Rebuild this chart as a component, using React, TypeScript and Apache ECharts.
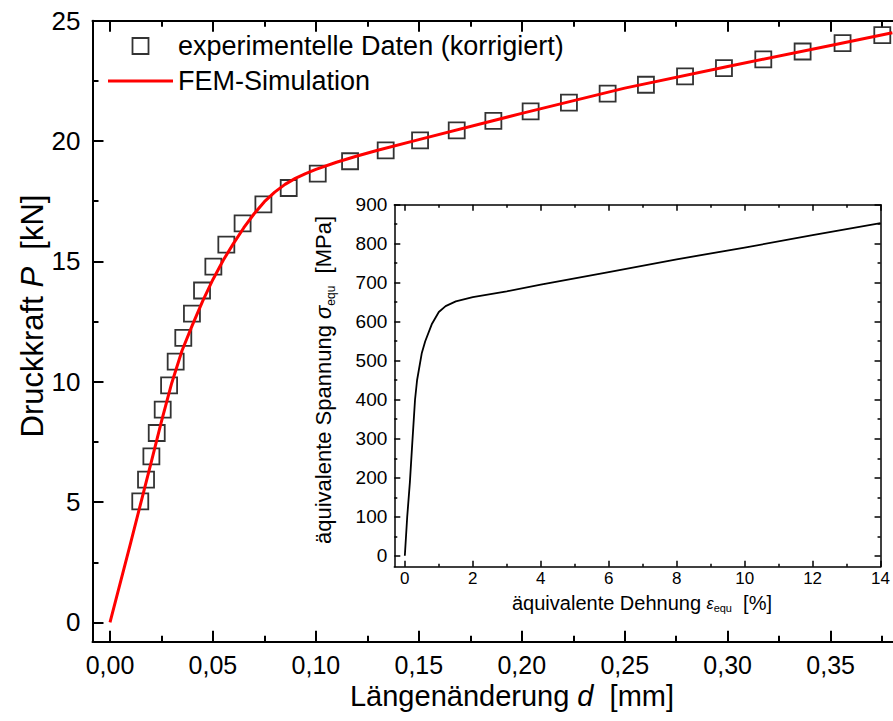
import React, { useEffect, useRef } from "react";
import * as echarts from "echarts";

// Experimental load–displacement points (corrected)
const D_EXP = [
  0.0147, 0.0175, 0.0201, 0.0227, 0.0256, 0.0287, 0.0319, 0.0356, 0.0398, 0.0447,
  0.0502, 0.0565, 0.0644, 0.0745, 0.0868, 0.1009, 0.1166, 0.1339, 0.1506, 0.1684,
  0.1862, 0.2043, 0.2229, 0.2417, 0.2603, 0.2793, 0.2982, 0.3173, 0.3364, 0.3558,
  0.3751,
];
const P_EXP = [
  5.03, 5.93, 6.9, 7.87, 8.84, 9.85, 10.84, 11.82, 12.83, 13.79,
  14.78, 15.7, 16.58, 17.37, 18.05, 18.65, 19.16, 19.61, 20.03, 20.44,
  20.84, 21.23, 21.6, 21.97, 22.34, 22.69, 23.03, 23.39, 23.72, 24.07,
  24.4,
];

// FEM simulation curve
const D_FEM = [
  0, 0.01, 0.02, 0.025, 0.03, 0.035, 0.04, 0.045, 0.05, 0.055, 0.06, 0.065, 0.07,
  0.075, 0.08, 0.085, 0.09, 0.095, 0.1, 0.11, 0.12, 0.13, 0.15, 0.2, 0.25, 0.3,
  0.35, 0.38,
];
const P_FEM = [
  0, 3.3, 6.65, 8.35, 9.95, 11.3, 12.35, 13.35, 14.25, 15.05, 15.75, 16.4, 16.98,
  17.48, 17.88, 18.2, 18.45, 18.65, 18.82, 19.12, 19.38, 19.62, 20.06, 21.15, 22.2,
  23.1, 23.97, 24.5,
];

// Equivalent stress–strain curve (inset)
const STRAIN = [0, 0.07, 0.15, 0.22, 0.3, 0.36, 0.5, 0.6, 0.8, 1.0, 1.2, 1.5, 2.0, 3, 4, 6, 8, 10, 12, 14];
const STRESS = [0, 100, 190, 290, 400, 450, 520, 550, 595, 625, 640, 652, 663, 678, 695, 727, 760, 790, 822, 853];

// Tick positions
const X_MAJOR = [0, 0.05, 0.1, 0.15, 0.2, 0.25, 0.3, 0.35];
const X_MINOR = [0.025, 0.075, 0.125, 0.175, 0.225, 0.275, 0.325, 0.375];
const Y_MAJOR = [0, 5, 10, 15, 20, 25];
const Y_MINOR = [2.5, 7.5, 12.5, 17.5, 22.5];
const IX_MAJOR = [0, 2, 4, 6, 8, 10, 12, 14];
const IX_MINOR = [1, 3, 5, 7, 9, 11, 13];
const IY_MAJOR = [0, 100, 200, 300, 400, 500, 600, 700, 800, 900];
const IY_MINOR = [50, 150, 250, 350, 450, 550, 650, 750, 850];

const FONT = "Liberation Sans, Arial, sans-serif";

function tickAxis(opts: {
  grid: number;
  position: string;
  min: number;
  max: number;
  ticks: number[];
  len: number;
  lineWidth: number;
  showLine: boolean;
  labels?: { values: number[]; fontSize: number; margin: number; formatter: (v: number) => string };
}) {
  return {
    type: "value",
    gridIndex: opts.grid,
    position: opts.position,
    min: opts.min,
    max: opts.max,
    splitLine: { show: false },
    axisLine: { show: opts.showLine, onZero: false, lineStyle: { color: "#000", width: opts.lineWidth } },
    axisTick: {
      show: true,
      inside: true,
      length: opts.len,
      customValues: opts.ticks,
      lineStyle: { color: "#000", width: opts.lineWidth },
    },
    axisLabel: opts.labels
      ? {
          show: true,
          customValues: opts.labels.values,
          fontSize: opts.labels.fontSize,
          fontFamily: FONT,
          color: "#000",
          margin: opts.labels.margin,
          formatter: opts.labels.formatter,
        }
      : { show: false },
  };
}

export default function App() {
  const ref = useRef<HTMLDivElement>(null);

  useEffect(() => {
    if (!ref.current) return;
    const chart = echarts.init(ref.current, null, { renderer: "svg" });

    const XMIN = -0.0085;
    const XMAX = 0.3803;
    const YMIN = -0.8;
    const YMAX = 25;
    const IXMIN = -0.31;
    const IXMAX = 14;
    const IYMIN = -28;
    const IYMAX = 900;

    const comma = (v: number) => v.toFixed(2).replace(".", ",");
    const plain = (v: number) => String(v);

    const option: any = {
      animation: false,
      backgroundColor: "#fff",
      grid: [
        { left: 92.5, top: 20.7, right: 0, bottom: 79.3, show: false },
        {
          left: 394.3,
          top: 204.7,
          width: 488.7,
          height: 362,
          show: true,
          backgroundColor: "#fff",
          borderWidth: 0,
        },
      ],
      xAxis: [
        tickAxis({ grid: 0, position: "bottom", min: XMIN, max: XMAX, ticks: X_MAJOR, len: 11, lineWidth: 2, showLine: true,
          labels: { values: X_MAJOR, fontSize: 25, margin: 11, formatter: comma } }),
        tickAxis({ grid: 0, position: "bottom", min: XMIN, max: XMAX, ticks: X_MINOR, len: 6, lineWidth: 2, showLine: false }),
        tickAxis({ grid: 0, position: "top", min: XMIN, max: XMAX, ticks: X_MAJOR, len: 11, lineWidth: 2, showLine: true }),
        tickAxis({ grid: 0, position: "top", min: XMIN, max: XMAX, ticks: X_MINOR, len: 6, lineWidth: 2, showLine: false }),
        tickAxis({ grid: 1, position: "bottom", min: IXMIN, max: IXMAX, ticks: IX_MAJOR, len: 6, lineWidth: 1.5, showLine: true,
          labels: { values: IX_MAJOR, fontSize: 17, margin: 3, formatter: plain } }),
        tickAxis({ grid: 1, position: "bottom", min: IXMIN, max: IXMAX, ticks: IX_MINOR, len: 3, lineWidth: 1.5, showLine: false }),
        tickAxis({ grid: 1, position: "top", min: IXMIN, max: IXMAX, ticks: IX_MAJOR, len: 6, lineWidth: 1.5, showLine: true }),
        tickAxis({ grid: 1, position: "top", min: IXMIN, max: IXMAX, ticks: IX_MINOR, len: 3, lineWidth: 1.5, showLine: false }),
      ],
      yAxis: [
        tickAxis({ grid: 0, position: "left", min: YMIN, max: YMAX, ticks: Y_MAJOR, len: 11, lineWidth: 2, showLine: true,
          labels: { values: Y_MAJOR, fontSize: 26, margin: 12, formatter: plain } }),
        tickAxis({ grid: 0, position: "left", min: YMIN, max: YMAX, ticks: Y_MINOR, len: 6, lineWidth: 2, showLine: false }),
        tickAxis({ grid: 1, position: "left", min: IYMIN, max: IYMAX, ticks: IY_MAJOR, len: 6, lineWidth: 1.5, showLine: true,
          labels: { values: IY_MAJOR, fontSize: 19, margin: 7, formatter: plain } }),
        tickAxis({ grid: 1, position: "left", min: IYMIN, max: IYMAX, ticks: IY_MINOR, len: 3, lineWidth: 1.5, showLine: false }),
        tickAxis({ grid: 1, position: "right", min: IYMIN, max: IYMAX, ticks: IY_MAJOR, len: 6, lineWidth: 1.5, showLine: true }),
        tickAxis({ grid: 1, position: "right", min: IYMIN, max: IYMAX, ticks: IY_MINOR, len: 3, lineWidth: 1.5, showLine: false }),
      ],
      legend: {
        orient: "vertical",
        left: 103,
        top: 26,
        itemWidth: 65,
        itemHeight: 16,
        itemGap: 5,
        textStyle: { fontSize: 27, fontFamily: FONT, color: "#000", lineHeight: 30 },
        data: [
          {
            name: "experimentelle Daten (korrigiert)",
            icon: "path://M0,0H10V10H0Z",
            itemStyle: { color: "rgba(0,0,0,0)", borderColor: "#000", borderWidth: 1.8 },
          },
          {
            name: "FEM-Simulation",
            icon: "path://M0,0H65V3H0Z",
            itemStyle: { color: "#ff0000", borderWidth: 0 },
          },
        ],
      },
      series: [
        {
          name: "experimentelle Daten (korrigiert)",
          type: "scatter",
          xAxisIndex: 0,
          yAxisIndex: 0,
          symbol: "rect",
          symbolSize: 16,
          itemStyle: { color: "rgba(0,0,0,0)", borderColor: "#000", borderWidth: 1.8 },
          data: D_EXP.map((d, i) => [d, P_EXP[i]]),
          z: 2,
        },
        {
          name: "FEM-Simulation",
          type: "line",
          xAxisIndex: 0,
          yAxisIndex: 0,
          symbol: "none",
          showSymbol: false,
          lineStyle: { color: "#ff0000", width: 3, join: "round" },
          itemStyle: { color: "#ff0000" },
          data: D_FEM.map((d, i) => [d, P_FEM[i]]),
          z: 3,
        },
        {
          name: "Fließkurve",
          type: "line",
          xAxisIndex: 4,
          yAxisIndex: 2,
          symbol: "none",
          showSymbol: false,
          lineStyle: { color: "#000", width: 1.8, join: "round" },
          data: STRAIN.map((e, i) => [e, STRESS[i]]),
          z: 3,
        },
      ],
      graphic: [
        {
          type: "text",
          x: 512,
          y: 696,
          style: {
            text: "{n|Längenänderung }{i|d}{n|  [mm]}",
            align: "center",
            verticalAlign: "middle",
            fill: "#000",
            rich: {
              n: { fontSize: 29, fontFamily: FONT, fill: "#000" },
              i: { fontSize: 29, fontFamily: FONT, fontStyle: "italic", fill: "#000" },
            },
          },
        },
        {
          type: "text",
          x: 32,
          y: 316,
          rotation: Math.PI / 2,
          style: {
            text: "{n|Druckkraft }{i|P}{n|  [kN]}",
            align: "center",
            verticalAlign: "middle",
            fill: "#000",
            rich: {
              n: { fontSize: 31, fontFamily: FONT, fill: "#000" },
              i: { fontSize: 31, fontFamily: FONT, fontStyle: "italic", fill: "#000" },
            },
          },
        },
        {
          type: "text",
          x: 642,
          y: 603,
          z: 10,
          style: {
            text: "{n|äquivalente Dehnung }{g|ε}{s|equ}{n|  [%]}",
            align: "center",
            verticalAlign: "middle",
            fill: "#000",
            rich: {
              n: { fontSize: 20, fontFamily: FONT, fill: "#000", lineHeight: 20, verticalAlign: "middle" },
              g: { fontSize: 16, fontFamily: FONT, fontStyle: "italic", fill: "#000", lineHeight: 20, verticalAlign: "middle" },
              s: { fontSize: 11, fontFamily: FONT, fill: "#000", lineHeight: 10, verticalAlign: "bottom" },
            },
          },
        },
        {
          type: "text",
          x: 323,
          y: 380,
          z: 10,
          rotation: Math.PI / 2,
          style: {
            text: "{n|äquivalente Spannung }{g|σ}{s|equ}{n|  [MPa]}",
            align: "center",
            verticalAlign: "middle",
            fill: "#000",
            rich: {
              n: { fontSize: 22, fontFamily: FONT, fill: "#000", lineHeight: 28, verticalAlign: "middle" },
              g: { fontSize: 22, fontFamily: FONT, fontStyle: "italic", fill: "#000", lineHeight: 28, verticalAlign: "middle" },
              s: { fontSize: 12, fontFamily: FONT, fill: "#000", lineHeight: 12, verticalAlign: "bottom" },
            },
          },
        },
      ],
    };

    chart.setOption(option);
    return () => chart.dispose();
  }, []);

  return (
    <div
      ref={ref}
      style={{ position: "fixed", left: 0, top: 0, width: 893, height: 721, background: "#fff" }}
    />
  );
}
